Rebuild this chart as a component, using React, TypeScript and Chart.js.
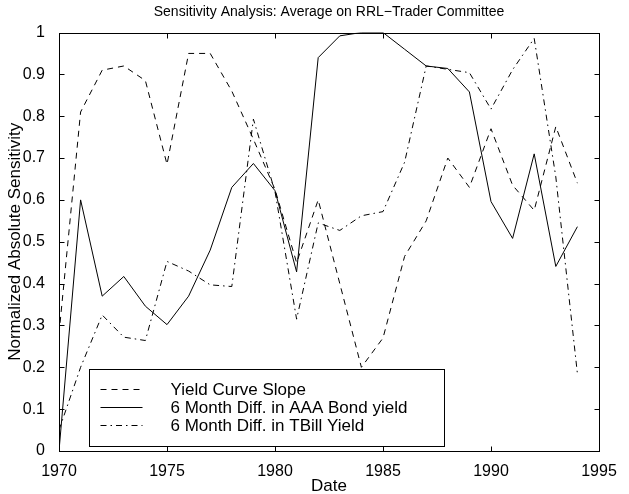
import React, { useEffect, useRef } from "react";
import { Chart, registerables } from "chart.js";

Chart.register(...registerables);

const years = [1970, 1971, 1972, 1973, 1974, 1975, 1976, 1977, 1978, 1979, 1980, 1981, 1982, 1983, 1984, 1985, 1986, 1987, 1988, 1989, 1990, 1991, 1992, 1993, 1994];
const yieldCurveSlope = [0.28, 0.81, 0.91, 0.92, 0.885, 0.685, 0.95, 0.95, 0.86, 0.745, 0.625, 0.45, 0.6, 0.4, 0.2, 0.27, 0.465, 0.55, 0.7, 0.63, 0.77, 0.635, 0.575, 0.775, 0.64];
const aaaBondYield = [0, 0.6, 0.37, 0.417, 0.346, 0.302, 0.37, 0.48, 0.63, 0.687, 0.622, 0.428, 0.94, 0.992, 1.0, 1.0, 0.96, 0.92, 0.914, 0.858, 0.596, 0.508, 0.71, 0.441, 0.536];
const tbillYield = [0.05, 0.2, 0.325, 0.272, 0.264, 0.453, 0.43, 0.397, 0.393, 0.793, 0.62, 0.315, 0.545, 0.527, 0.562, 0.572, 0.69, 0.92, 0.912, 0.904, 0.817, 0.911, 0.986, 0.655, 0.185];

const xTickValues = [1970, 1975, 1980, 1985, 1990, 1995];
const yTickValues = [0, 0.1, 0.2, 0.3, 0.4, 0.5, 0.6, 0.7, 0.8, 0.9, 1];
const seriesLabels = ["Yield Curve Slope", "6 Month Diff. in AAA Bond yield", "6 Month Diff. in TBill Yield"];
const titleText = "Sensitivity Analysis: Average on RRL\u2212Trader Committee";

const FONT = "'Liberation Sans', Arial, Helvetica, sans-serif";
const DASHED = [6, 5];
const DASHDOT = [6, 4, 1.5, 4];
const dashes = [DASHED, [], DASHDOT];

const framePlugin = {
  id: "matlabFrame",
  afterDatasetsDraw(chart: any) {
    const { ctx, chartArea: a, scales } = chart;
    ctx.save();
    ctx.strokeStyle = "#000";
    ctx.lineWidth = 1;
    ctx.setLineDash([]);
    const L = Math.round(a.left) + 0.5;
    const R = Math.round(a.right) + 0.5;
    const T = Math.round(a.top) + 0.5;
    const B = Math.round(a.bottom) + 0.5;
    ctx.strokeRect(L, T, R - L, B - T);
    const tl = 5;
    ctx.beginPath();
    scales.x.ticks.forEach((t: any) => {
      const px = Math.round(scales.x.getPixelForValue(t.value)) + 0.5;
      ctx.moveTo(px, B);
      ctx.lineTo(px, B - tl);
      ctx.moveTo(px, T);
      ctx.lineTo(px, T + tl);
    });
    scales.y.ticks.forEach((t: any) => {
      const py = Math.round(scales.y.getPixelForValue(t.value)) + 0.5;
      ctx.moveTo(L, py);
      ctx.lineTo(L + tl, py);
      ctx.moveTo(R, py);
      ctx.lineTo(R - tl, py);
    });
    ctx.stroke();

    // title, centred over the plot area
    ctx.fillStyle = "#000";
    ctx.font = `14px ${FONT}`;
    ctx.textAlign = "center";
    ctx.textBaseline = "middle";
    ctx.fillText(titleText, (a.left + a.right) / 2, 12);

    // legend box
    const bx = Math.round(a.left + 30) + 0.5;
    const by = Math.round(a.bottom - 82) + 0.5;
    const bw = 355;
    const bh = 77;
    ctx.fillStyle = "#fff";
    ctx.fillRect(bx, by, bw, bh);
    ctx.strokeRect(bx, by, bw, bh);
    const rows = [19, 37.5, 55];
    ctx.font = `17px ${FONT}`;
    ctx.textBaseline = "middle";
    ctx.textAlign = "left";
    ctx.fillStyle = "#000";
    seriesLabels.forEach((lab, i) => {
      const y = Math.round(by + rows[i]) + 0.5;
      ctx.setLineDash(dashes[i]);
      ctx.beginPath();
      ctx.moveTo(bx + 11, y);
      ctx.lineTo(bx + 53, y);
      ctx.stroke();
      ctx.setLineDash([]);
      ctx.fillText(lab, bx + 81, y + 0.5);
    });
    ctx.restore();
  },
};

export default function App() {
  const ref = useRef<HTMLCanvasElement>(null);
  useEffect(() => {
    document.body.style.margin = "0";
    const mk = (vals: number[]) => years.map((x, i) => ({ x, y: vals[i] }));
    const seriesValues = [yieldCurveSlope, aaaBondYield, tbillYield];
    const chart = new Chart(ref.current as HTMLCanvasElement, {
      type: "line",
      data: {
        datasets: seriesValues.map((vals, i) => ({
          label: seriesLabels[i],
          data: mk(vals),
          borderColor: "#000",
          backgroundColor: "#000",
          borderWidth: 1,
          borderDash: dashes[i],
          pointRadius: 0,
          tension: 0,
          fill: false,
        })),
      },
      options: {
        responsive: false,
        animation: false,
        devicePixelRatio: 1,
        layout: { padding: { left: 0, right: 30, top: 32.5, bottom: 0 } },
        plugins: {
          legend: { display: false },
          tooltip: { enabled: false },
          title: { display: false },
        },
        scales: {
          x: {
            type: "linear",
            min: 1970,
            max: 1995,
            afterBuildTicks: (s: any) => {
              s.ticks = xTickValues.map((v) => ({ value: v }));
            },
            afterFit: (s: any) => {
              s.height = 43;
            },
            grid: { display: false },
            border: { display: false },
            ticks: {
              color: "#000",
              font: { family: FONT, size: 16 },
              padding: 3,
              maxRotation: 0,
              autoSkip: false,
              callback: (v: any) => String(v),
            },
            title: {
              display: true,
              text: "Date",
              color: "#000",
              font: { family: FONT, size: 17 },
              padding: { top: 0, bottom: -3 },
            },
          },
          y: {
            type: "linear",
            min: 0,
            max: 1,
            afterBuildTicks: (s: any) => {
              s.ticks = yTickValues.map((v) => ({ value: v }));
            },
            afterFit: (s: any) => {
              s.width = 59;
            },
            grid: { display: false },
            border: { display: false },
            ticks: {
              color: "#000",
              font: { family: FONT, size: 16 },
              padding: 6,
              autoSkip: false,
              callback: (v: any) => {
                const n = Number(v);
                return n === 0 || n === 1 ? String(n) : n.toFixed(1);
              },
            },
            title: {
              display: true,
              text: "Normalized Absolute Sensitivity",
              color: "#000",
              font: { family: FONT, size: 17 },
              padding: { top: 5, bottom: 0 },
            },
          },
        },
      },
      plugins: [framePlugin],
    } as any);
    return () => chart.destroy();
  }, []);
  return <canvas ref={ref} width={629} height={494} style={{ display: "block" }} />;
}
